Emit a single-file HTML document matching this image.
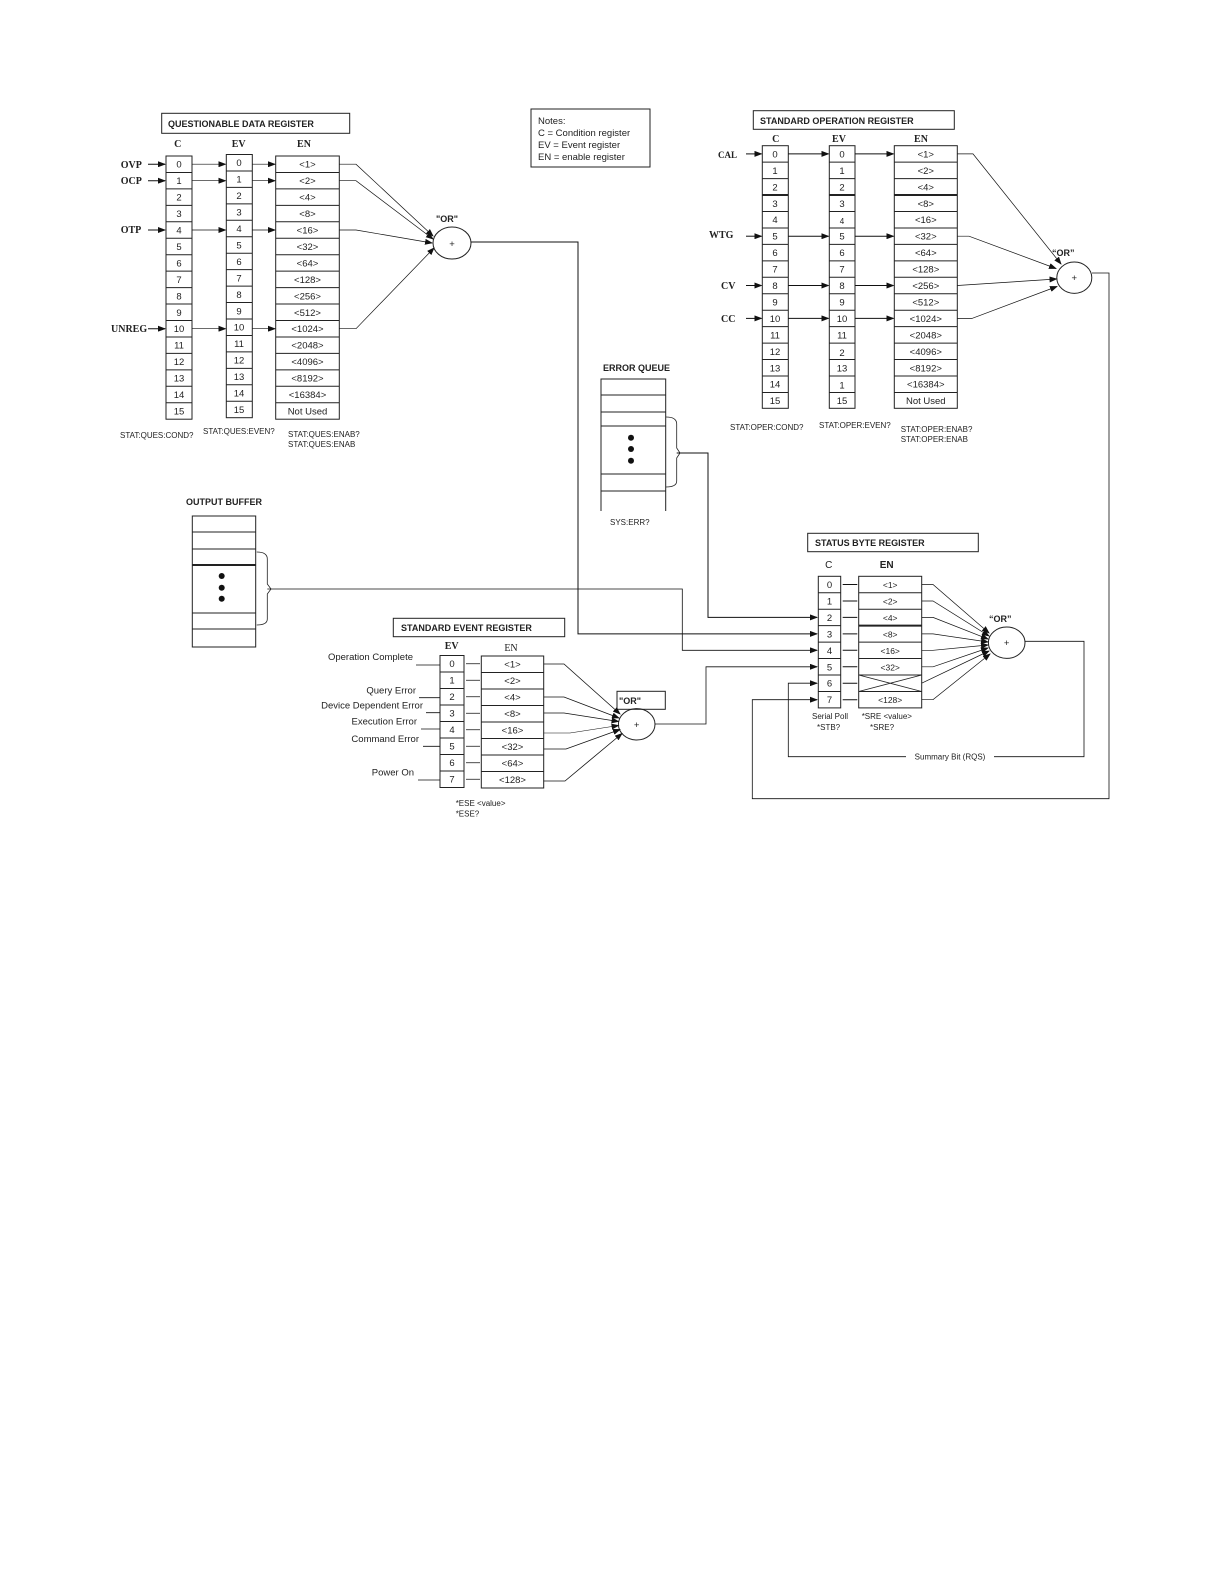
<!DOCTYPE html>
<html><head><meta charset="utf-8"><style>
html,body{margin:0;padding:0;background:#fff;}
svg{display:block;}
text{font-family:"Liberation Sans",sans-serif;fill:#222;}
.n{font-size:9.5px;text-anchor:middle;}
.h{font-family:"Liberation Serif",serif;font-weight:bold;font-size:10px;text-anchor:middle;}
.t{font-weight:bold;font-size:9px;}
.s{font-size:8px;}
.l{font-family:"Liberation Serif",serif;font-weight:bold;font-size:10px;}
.e{font-size:9.5px;text-anchor:end;}
</style></head><body>
<svg width="1224" height="1584" viewBox="0 0 1224 1584" xmlns="http://www.w3.org/2000/svg">
<defs>
<marker id="a" markerWidth="8" markerHeight="6" refX="7" refY="3" orient="auto" markerUnits="userSpaceOnUse"><path d="M0,0 L8,3 L0,6 z" fill="#111"/></marker>
<g id="g16" fill="none" stroke="#222" stroke-width="1">
<rect x="0" y="0" width="1" height="263.2" stroke="none"/>
<path d="M0,16.45h1M0,32.9h1M0,49.35h1M0,65.8h1M0,82.25h1M0,98.7h1M0,115.15h1M0,131.6h1M0,148.05h1M0,164.5h1M0,180.95h1M0,197.4h1M0,213.85h1M0,230.3h1M0,246.75h1"/>
</g>
</defs>
<g fill="none" stroke="#222" stroke-width="1">
<!-- QDR columns -->
<rect x="166" y="156" width="26" height="263.2"/>
<rect x="226.3" y="154.5" width="26" height="263.2"/>
<rect x="275.7" y="156" width="63.6" height="263.2"/>
<path d="M166,172.45h26M166,188.9h26M166,205.35h26M166,221.8h26M166,238.25h26M166,254.7h26M166,271.15h26M166,287.6h26M166,304.05h26M166,320.5h26M166,336.95h26M166,353.4h26M166,369.85h26M166,386.3h26M166,402.75h26"/>
<path d="M226.3,170.95h26M226.3,187.4h26M226.3,203.85h26M226.3,220.3h26M226.3,236.75h26M226.3,253.2h26M226.3,269.65h26M226.3,286.1h26M226.3,302.55h26M226.3,319h26M226.3,335.45h26M226.3,351.9h26M226.3,368.35h26M226.3,384.8h26M226.3,401.25h26"/>
<path d="M275.7,172.45h63.6M275.7,188.9h63.6M275.7,205.35h63.6M275.7,221.8h63.6M275.7,238.25h63.6M275.7,254.7h63.6M275.7,271.15h63.6M275.7,287.6h63.6M275.7,304.05h63.6M275.7,320.5h63.6M275.7,336.95h63.6M275.7,353.4h63.6M275.7,369.85h63.6M275.7,386.3h63.6M275.7,402.75h63.6"/>
<rect x="161.7" y="113.3" width="188" height="20"/>
<!-- SOR columns -->
<rect x="753.3" y="110.7" width="201" height="18.6"/>
<rect x="762.3" y="145.7" width="26" height="262.6"/>
<rect x="829.3" y="145.7" width="25.7" height="262.6"/>
<rect x="894.3" y="145.7" width="63" height="262.6"/>
<path d="M762.3,162.15h26M762.3,178.6h26M762.3,195.05h26M762.3,211.5h26M762.3,227.95h26M762.3,244.4h26M762.3,260.85h26M762.3,277.3h26M762.3,293.75h26M762.3,310.2h26M762.3,326.65h26M762.3,343.1h26M762.3,359.55h26M762.3,376h26M762.3,392.45h26"/>
<path d="M829.3,162.15h25.7M829.3,178.6h25.7M829.3,195.05h25.7M829.3,211.5h25.7M829.3,227.95h25.7M829.3,244.4h25.7M829.3,260.85h25.7M829.3,277.3h25.7M829.3,293.75h25.7M829.3,310.2h25.7M829.3,326.65h25.7M829.3,343.1h25.7M829.3,359.55h25.7M829.3,376h25.7M829.3,392.45h25.7"/>
<path d="M894.3,162.15h63M894.3,178.6h63M894.3,195.05h63M894.3,211.5h63M894.3,227.95h63M894.3,244.4h63M894.3,260.85h63M894.3,277.3h63M894.3,293.75h63M894.3,310.2h63M894.3,326.65h63M894.3,343.1h63M894.3,359.55h63M894.3,376h63M894.3,392.45h63"/>
<path d="M762.3,195.05h26M829.3,195.05h25.7M894.3,195.05h63" stroke-width="2"/>
<!-- Notes -->
<rect x="531" y="109" width="119" height="58"/>
<!-- Error queue -->
<path d="M601,511V379H665.7V511"/>
<path d="M601,395h64.7M601,412h64.7M601,426h64.7M601,474h64.7M601,491h64.7"/>
<path d="M666,417 Q676.7,417 676.7,424 L676.7,448 L680,453 L676.7,458 L676.7,481 Q676.7,487 666,487" stroke-width="0.8"/>
<!-- Output buffer -->
<rect x="192.3" y="516" width="63.4" height="131"/>
<path d="M192.3,532h63.4M192.3,549h63.4M192.3,613h63.4M192.3,629h63.4"/>
<path d="M192.3,565h63.4" stroke-width="2"/>
<path d="M256.7,552 Q267.3,552 267.3,559 L267.3,584 L271,589 L267.3,594 L267.3,619 Q267.3,625 256.7,625" stroke-width="0.8"/>
<!-- SER -->
<rect x="393.3" y="618.3" width="171.4" height="18.4"/>
<rect x="440" y="655.5" width="24" height="132"/>
<rect x="481.3" y="656" width="62.4" height="132"/>
<path d="M440,672h24M440,688.5h24M440,705h24M440,721.5h24M440,738h24M440,754.5h24M440,771h24"/>
<path d="M481.3,672.5h62.4M481.3,689h62.4M481.3,705.5h62.4M481.3,722h62.4M481.3,738.5h62.4M481.3,755h62.4M481.3,771.5h62.4"/>
<rect x="617" y="691.3" width="48.3" height="18"/>
<!-- SBR -->
<rect x="807.7" y="533.3" width="170.6" height="18.4"/>
<rect x="818.3" y="576.3" width="22.4" height="131.6"/>
<rect x="858.7" y="576.3" width="63" height="131.6"/>
<path d="M818.3,592.75h22.4M818.3,609.2h22.4M818.3,625.65h22.4M818.3,642.1h22.4M818.3,658.55h22.4M818.3,675h22.4M818.3,691.45h22.4"/>
<path d="M858.7,592.75h63M858.7,609.2h63M858.7,642.1h63M858.7,658.55h63M858.7,675h63M858.7,691.45h63"/>
<path d="M858.7,625.65h63" stroke-width="2"/>
<path d="M858.7,675L921.7,691.45M858.7,691.45L921.7,675" stroke-width="0.8"/>
<!-- circles -->
<ellipse cx="452" cy="243" rx="19" ry="16"/>
<ellipse cx="1074.3" cy="277.7" rx="17.5" ry="15.7"/>
<ellipse cx="636.7" cy="724.3" rx="18.3" ry="15.7"/>
<ellipse cx="1006.7" cy="642.7" rx="18.3" ry="15.7"/>
</g>

<!-- connectors -->
<g fill="none" stroke="#111" stroke-width="1">
<!-- QDR inputs -->
<path d="M148,164.2H165" marker-end="url(#a)"/>
<path d="M148,180.7H165" marker-end="url(#a)"/>
<path d="M148,230H165" marker-end="url(#a)"/>
<path d="M148,328.7H165" marker-end="url(#a)"/>
<path d="M192,164.2H225.5" marker-end="url(#a)" stroke-width="0.7"/>
<path d="M192,180.7H225.5" marker-end="url(#a)" stroke-width="0.7"/>
<path d="M192,230H225.5" marker-end="url(#a)" stroke-width="0.7"/>
<path d="M192,328.7H225.5" marker-end="url(#a)" stroke-width="0.7"/>
<path d="M252.3,164.2H275" marker-end="url(#a)" stroke-width="0.7"/>
<path d="M252.3,180.7H275" marker-end="url(#a)" stroke-width="0.7"/>
<path d="M252.3,230H275" marker-end="url(#a)" stroke-width="0.7"/>
<path d="M252.3,328.7H275" marker-end="url(#a)" stroke-width="0.7"/>
<path d="M339.3,164.2H356L433,236" marker-end="url(#a)" stroke-width="0.7"/>
<path d="M339.3,180.7H356L433,239" marker-end="url(#a)" stroke-width="0.7"/>
<path d="M339.3,230H356L432,243" marker-end="url(#a)" stroke-width="0.7"/>
<path d="M339.3,328.7H356L434,248" marker-end="url(#a)" stroke-width="0.7"/>
<path d="M471,242H578V633.9H817" marker-end="url(#a)"/>
<!-- SOR -->
<path d="M746,153.9H761.5" marker-end="url(#a)"/>
<path d="M746,236.2H761.5" marker-end="url(#a)"/>
<path d="M746,285.5H761.5" marker-end="url(#a)"/>
<path d="M746,318.4H761.5" marker-end="url(#a)"/>
<path d="M788.3,153.9H828.5" marker-end="url(#a)"/>
<path d="M788.3,236.2H828.5" marker-end="url(#a)"/>
<path d="M788.3,285.5H828.5" marker-end="url(#a)"/>
<path d="M788.3,318.4H828.5" marker-end="url(#a)"/>
<path d="M855,153.9H893.5" marker-end="url(#a)"/>
<path d="M855,236.2H893.5" marker-end="url(#a)"/>
<path d="M855,285.5H893.5" marker-end="url(#a)"/>
<path d="M855,318.4H893.5" marker-end="url(#a)"/>
<path d="M957.3,153.9H973L1061,264" marker-end="url(#a)" stroke-width="0.7"/>
<path d="M957.3,236.2H969L1056,268.5" marker-end="url(#a)" stroke-width="0.7"/>
<path d="M957.3,285.5L1056.5,279" marker-end="url(#a)" stroke-width="0.7"/>
<path d="M957.3,318.4H972L1057,286.5" marker-end="url(#a)" stroke-width="0.7"/>
<path d="M1092,273H1109V798.7H752.3V699.7H817" marker-end="url(#a)" stroke-width="0.8"/>
<!-- EQ, OB -->
<path d="M676.7,453H708V617.4H817" marker-end="url(#a)"/>
<path d="M267.3,589H682.3V650.3H817" marker-end="url(#a)" stroke-width="0.8"/>
<!-- SER -->
<path d="M416,665H440M419,697.7H440M426,712.7H440M421,729H440M423,746.3H440M418,780H440" stroke-width="0.8"/>
<path d="M466,663.75H480M466,680.25H480M466,696.75H480M466,713.25H480M466,729.75H480M466,746.25H480M466,762.75H480M466,779.25H480" stroke-width="0.7"/>
<path d="M543.7,664H564L620,714" marker-end="url(#a)" stroke-width="0.8"/>
<path d="M543.7,697H564L619,718" marker-end="url(#a)" stroke-width="0.8"/>
<path d="M543.7,713H564L618.5,721.5" marker-end="url(#a)" stroke-width="0.8"/>
<path d="M543.7,733H570L618.5,725.5" marker-end="url(#a)" stroke-width="0.6"/>
<path d="M543.7,749H566L620,729.5" marker-end="url(#a)" stroke-width="0.8"/>
<path d="M543.7,781H565L622,733.5" marker-end="url(#a)" stroke-width="0.8"/>
<path d="M655,724H706V666.8H817" marker-end="url(#a)" stroke-width="0.8"/>
<!-- SBR -->
<path d="M842.7,584.5H857.3M842.7,601H857.3M842.7,617.4H857.3M842.7,633.9H857.3M842.7,650.3H857.3M842.7,666.8H857.3M842.7,683.2H857.3M842.7,699.7H857.3"/>
<path d="M921.7,584.5H933L989,633" marker-end="url(#a)" stroke-width="0.7"/>
<path d="M921.7,601H933L989,636" marker-end="url(#a)" stroke-width="0.7"/>
<path d="M921.7,617.4H933L988,639" marker-end="url(#a)" stroke-width="0.7"/>
<path d="M921.7,633.9H933L988,642" marker-end="url(#a)" stroke-width="0.7"/>
<path d="M921.7,650.3H933L988,645" marker-end="url(#a)" stroke-width="0.7"/>
<path d="M921.7,666.8H933L988,648" marker-end="url(#a)" stroke-width="0.7"/>
<path d="M921.7,683.2L989,651" marker-end="url(#a)" stroke-width="0.7"/>
<path d="M921.7,699.7H933L990,654" marker-end="url(#a)" stroke-width="0.7"/>
<path d="M1025,641.3H1084V756.7H994M906,756.7H788.3V683.2H817" marker-end="url(#a)" stroke-width="0.8"/>
</g>

<!-- text -->
<text class="t" x="168" y="127">QUESTIONABLE  DATA REGISTER</text>
<text class="h" x="177.7" y="147">C</text><text class="h" x="238.7" y="147">EV</text><text class="h" x="304" y="147">EN</text>
<text class="l" x="120.7" y="168">OVP</text><text class="l" x="120.7" y="184">OCP</text><text class="l" x="120.7" y="233">OTP</text><text class="l" x="111" y="332">UNREG</text>
<g class="n">
<text x="179" y="167.7">0</text><text x="179" y="184.2">1</text><text x="179" y="200.6">2</text><text x="179" y="217.1">3</text><text x="179" y="233.5">4</text><text x="179" y="250">5</text><text x="179" y="266.4">6</text><text x="179" y="282.9">7</text><text x="179" y="299.3">8</text><text x="179" y="315.8">9</text><text x="179" y="332.2">10</text><text x="179" y="348.7">11</text><text x="179" y="365.1">12</text><text x="179" y="381.6">13</text><text x="179" y="398">14</text><text x="179" y="414.5">15</text>
<text x="239" y="166.2">0</text><text x="239" y="182.7">1</text><text x="239" y="199.1">2</text><text x="239" y="215.6">3</text><text x="239" y="232">4</text><text x="239" y="248.5">5</text><text x="239" y="264.9">6</text><text x="239" y="281.4">7</text><text x="239" y="297.8">8</text><text x="239" y="314.3">9</text><text x="239" y="330.7">10</text><text x="239" y="347.2">11</text><text x="239" y="363.6">12</text><text x="239" y="380.1">13</text><text x="239" y="396.5">14</text><text x="239" y="413">15</text>
<text x="307.5" y="167.7">&lt;1&gt;</text><text x="307.5" y="184.2">&lt;2&gt;</text><text x="307.5" y="200.6">&lt;4&gt;</text><text x="307.5" y="217.1">&lt;8&gt;</text><text x="307.5" y="233.5">&lt;16&gt;</text><text x="307.5" y="250">&lt;32&gt;</text><text x="307.5" y="266.4">&lt;64&gt;</text><text x="307.5" y="282.9">&lt;128&gt;</text><text x="307.5" y="299.3">&lt;256&gt;</text><text x="307.5" y="315.8">&lt;512&gt;</text><text x="307.5" y="332.2">&lt;1024&gt;</text><text x="307.5" y="348.7">&lt;2048&gt;</text><text x="307.5" y="365.1">&lt;4096&gt;</text><text x="307.5" y="381.6">&lt;8192&gt;</text><text x="307.5" y="398">&lt;16384&gt;</text><text x="307.5" y="414.5">Not Used</text>
</g>
<text class="s" x="120" y="438">STAT:QUES:COND?</text>
<text class="s" x="203" y="434">STAT:QUES:EVEN?</text>
<text class="s" x="288" y="437">STAT:QUES:ENAB?</text>
<text class="s" x="288" y="447">STAT:QUES:ENAB</text>
<text class="t" x="436" y="222">"OR"</text>
<text class="n" x="452" y="247">+</text>

<text style="font-size:9.5px" x="538" y="124">Notes:</text>
<text style="font-size:9.5px" x="538" y="136">C = Condition register</text>
<text style="font-size:9.5px" x="538" y="148">EV = Event register</text>
<text style="font-size:9.5px" x="538" y="160">EN = enable register</text>

<text class="t" x="760" y="124">STANDARD OPERATION REGISTER</text>
<text class="h" x="775.7" y="142">C</text><text class="h" x="839" y="142">EV</text><text class="h" x="921" y="142">EN</text>
<text class="l" x="718" y="158" style="font-size:9px">CAL</text><text class="l" x="709" y="238">WTG</text><text class="l" x="721" y="289">CV</text><text class="l" x="721" y="322">CC</text>
<g class="n">
<text x="775" y="157.4">0</text><text x="775" y="173.9">1</text><text x="775" y="190.3">2</text><text x="775" y="206.8">3</text><text x="775" y="223.2">4</text><text x="775" y="239.7">5</text><text x="775" y="256.1">6</text><text x="775" y="272.6">7</text><text x="775" y="289">8</text><text x="775" y="305.5">9</text><text x="775" y="321.9">10</text><text x="775" y="338.4">11</text><text x="775" y="354.8">12</text><text x="775" y="371.3">13</text><text x="775" y="387.7">14</text><text x="775" y="404.2">15</text>
<text x="842" y="157.4">0</text><text x="842" y="173.9">1</text><text x="842" y="190.3">2</text><text x="842" y="206.8">3</text><text x="842" y="224.2" style="font-size:8px">4</text><text x="842" y="239.7">5</text><text x="842" y="256.1">6</text><text x="842" y="272.6">7</text><text x="842" y="289">8</text><text x="842" y="305.5">9</text><text x="842" y="321.9">10</text><text x="842" y="338.4">11</text><text x="842" y="355.8">2</text><text x="842" y="371.3">13</text><text x="842" y="388.7">1</text><text x="842" y="404.2">15</text>
<text x="925.8" y="157.4">&lt;1&gt;</text><text x="925.8" y="173.9">&lt;2&gt;</text><text x="925.8" y="190.3">&lt;4&gt;</text><text x="925.8" y="206.8">&lt;8&gt;</text><text x="925.8" y="223.2">&lt;16&gt;</text><text x="925.8" y="239.7">&lt;32&gt;</text><text x="925.8" y="256.1">&lt;64&gt;</text><text x="925.8" y="272.6">&lt;128&gt;</text><text x="925.8" y="289">&lt;256&gt;</text><text x="925.8" y="305.5">&lt;512&gt;</text><text x="925.8" y="321.9">&lt;1024&gt;</text><text x="925.8" y="338.4">&lt;2048&gt;</text><text x="925.8" y="354.8">&lt;4096&gt;</text><text x="925.8" y="371.3">&lt;8192&gt;</text><text x="925.8" y="387.7">&lt;16384&gt;</text><text x="925.8" y="404.2">Not Used</text>
</g>
<text class="s" x="730" y="430">STAT:OPER:COND?</text>
<text class="s" x="819" y="428">STAT:OPER:EVEN?</text>
<text class="s" x="900.7" y="432">STAT:OPER:ENAB?</text>
<text class="s" x="900.7" y="442">STAT:OPER:ENAB</text>
<text class="t" x="1052" y="256">“OR”</text>
<text class="n" x="1074.3" y="281">+</text>

<text class="t" x="603" y="371">ERROR QUEUE</text>
<circle cx="631" cy="437.7" r="3" fill="#111"/><circle cx="631" cy="449" r="3" fill="#111"/><circle cx="631" cy="460.7" r="3" fill="#111"/>
<text class="s" x="610" y="525">SYS:ERR?</text>

<text class="t" x="186" y="505">OUTPUT BUFFER</text>
<circle cx="221.7" cy="576" r="3" fill="#111"/><circle cx="221.7" cy="587.7" r="3" fill="#111"/><circle cx="221.7" cy="598.7" r="3" fill="#111"/>

<text class="t" x="401" y="631">STANDARD EVENT REGISTER</text>
<text class="h" x="451.7" y="649">EV</text><text class="h" x="511" y="651" style="font-weight:normal">EN</text>
<g class="e">
<text x="413" y="660">Operation Complete</text>
<text x="416" y="693.5">Query Error</text>
<text x="423" y="708.5">Device Dependent Error</text>
<text x="417" y="724.5">Execution Error</text>
<text x="419" y="742">Command Error</text>
<text x="414" y="775.5">Power On</text>
</g>
<g class="n">
<text x="452" y="667.2">0</text><text x="452" y="683.7">1</text><text x="452" y="700.2">2</text><text x="452" y="716.7">3</text><text x="452" y="733.2">4</text><text x="452" y="749.7">5</text><text x="452" y="766.2">6</text><text x="452" y="782.7">7</text>
<text x="512.5" y="667.7">&lt;1&gt;</text><text x="512.5" y="684.2">&lt;2&gt;</text><text x="512.5" y="700.7">&lt;4&gt;</text><text x="512.5" y="717.2">&lt;8&gt;</text><text x="512.5" y="733.7">&lt;16&gt;</text><text x="512.5" y="750.2">&lt;32&gt;</text><text x="512.5" y="766.7">&lt;64&gt;</text><text x="512.5" y="783.2">&lt;128&gt;</text>
</g>
<text class="s" x="455.7" y="806">*ESE &lt;value&gt;</text>
<text class="s" x="455.7" y="816.7">*ESE?</text>
<text class="t" x="619" y="704">"OR"</text>
<text class="n" x="636.7" y="728">+</text>

<text class="t" x="815" y="546">STATUS  BYTE REGISTER</text>
<text class="h" x="828.7" y="568" style="font-family:'Liberation Sans',sans-serif;font-weight:normal">C</text>
<text class="h" x="886.7" y="568" style="font-family:'Liberation Sans',sans-serif">EN</text>
<g class="n">
<text x="829.5" y="588">0</text><text x="829.5" y="604.5">1</text><text x="829.5" y="620.9">2</text><text x="829.5" y="637.4">3</text><text x="829.5" y="653.8">4</text><text x="829.5" y="670.3">5</text><text x="829.5" y="686.7">6</text><text x="829.5" y="703.2">7</text>
</g>
<g class="n" style="font-size:8.5px">
<text x="890.2" y="588">&lt;1&gt;</text><text x="890.2" y="604.5">&lt;2&gt;</text><text x="890.2" y="620.9">&lt;4&gt;</text><text x="890.2" y="637.4">&lt;8&gt;</text><text x="890.2" y="653.8">&lt;16&gt;</text><text x="890.2" y="670.3">&lt;32&gt;</text><text x="890.2" y="703.2">&lt;128&gt;</text>
</g>
<text class="s" x="812" y="719">Serial Poll</text>
<text class="s" x="817" y="730">*STB?</text>
<text class="s" x="861.7" y="719">*SRE &lt;value&gt;</text>
<text class="s" x="870" y="730">*SRE?</text>
<text class="t" x="989" y="622">“OR”</text>
<text class="n" x="1006.7" y="646">+</text>
<text class="s" x="950" y="759.5" text-anchor="middle">Summary Bit (RQS)</text>
</svg>
</body></html>
